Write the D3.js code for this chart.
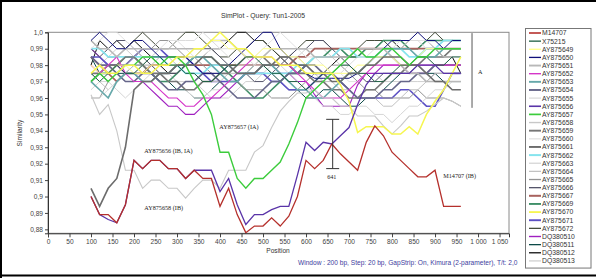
<!DOCTYPE html>
<html>
<head>
<meta charset="utf-8">
<script src="https://cdn.jsdelivr.net/npm/d3@7"></script>
<style>
  body { margin: 0; background: #fff; }
  svg { display: block; }
</style>
</head>
<body>
<svg id="chart"></svg>
<script>
// window centres (bp)
const positions = [100,120,140,160,180,200,220,240,260,280,300,
  320,340,360,380,400,420,440,460,480,500,520,
  540,560,580,600,620,640,660,680,700,720,740,
  760,780,800,820,840,860,880,900,920,940,960];

const M14707 = [.900,.889,.889,.884,.895,.922,.917,.922,.922,.917,.917,
  .911,.916,.911,.911,.894,.905,.889,.878,.882,.882,.887,
  .882,.888,.900,.922,.917,.922,.932,.926,.921,.916,.933,
  .943,.937,.927,.922,.917,.912,.912,.916,.894,.894,.894];
const X75215 = [.975,.97,.975,.98,.975,.975,.98,.985,.985,.98,.98,
  .975,.975,.97,.97,.975,.98,.98,.985,.985,.98,.975,
  .975,.97,.97,.965,.97,.975,.975,.98,.98,.975,.975,
  .97,.97,.975,.98,.98,.985,.985,.98,.98,.985,.985];
const AY875649 = [.98,.975,.975,.98,.98,.975,.975,.98,.98,.98,.98,
  .985,.985,.99,.995,.995,.99,.99,.985,.985,.99,.99,
  .99,.985,.985,.98,.98,.98,.975,.975,.975,.98,.98,
  .985,.985,.985,.98,.98,.985,.99,.99,.99,.99,.99];
const AY875650 = [.995,1.0,.995,.99,.99,.995,.995,.99,.985,.985,.985,
  .985,.98,.975,.975,.975,.98,.985,.99,.995,1.0,1.0,
  .99,.985,.98,.975,.972,.972,.972,.972,.972,.975,.98,
  .985,.99,.995,.995,.995,1.0,.995,.995,.99,.995,.995];
const AY875651 = [.995,.99,.99,.985,.99,.99,.99,.99,.99,.99,.99,
  .99,.99,.99,.995,.995,.995,.99,.985,.985,.985,.99,
  .99,.99,.99,.99,.985,.985,.985,.985,.985,.99,.99,
  .99,.99,.985,.98,.975,.975,.97,.97,.97,.97,.97];
const AY875652 = [.98,.975,.98,.985,.975,.97,.97,.97,.965,.96,.96,
  .955,.955,.96,.96,.965,.97,.975,.98,.985,.985,.985,
  .98,.98,.975,.97,.965,.96,.96,.96,.965,.97,.975,
  .98,.98,.98,.98,.98,.98,.98,.98,.98,.98,.98];
const AY875653 = [.97,.965,.96,.97,.975,.975,.97,.97,.975,.975,.98,
  .98,.985,.985,.98,.975,.97,.97,.975,.975,.98,.98,
  .975,.97,.965,.965,.96,.96,.965,.97,.975,.975,.98,
  .985,.985,.99,.99,.99,.985,.985,.985,.99,.99,.99];
const AY875654 = [.985,.98,.98,.975,.97,.97,.975,.975,.97,.965,.965,
  .97,.97,.975,.975,.97,.965,.96,.96,.96,.965,.97,
  .97,.975,.975,.98,.98,.975,.975,.97,.965,.96,.96,
  .96,.965,.965,.97,.97,.975,.975,.98,.98,.98,.98];
const AY875655 = [.96,.96,.965,.97,.975,.975,.98,.985,.99,.99,.995,
  .995,.995,1.0,.995,.99,.99,.99,.985,.98,.98,.98,
  .975,.97,.97,.965,.965,.97,.975,.975,.98,.985,.985,
  .99,.99,.99,.995,.995,.995,.99,.99,.985,.985,.985];
const AY875656 = [.900,.889,.886,.884,.895,.922,.917,.922,.922,.917,.917,
  .911,.916,.916,.916,.903,.911,.895,.883,.889,.889,.892,
  .894,.894,.913,.933,.928,.933,.932,.937,.942,.956,.968,
  .975,.975,.975,.975,.975,.98,.98,.98,.975,.975,.975];
const AY875657 = [.97,.975,.97,.975,.98,.98,.985,.985,.98,.985,.985,
  .98,.97,.962,.95,.927,.927,.911,.905,.911,.911,.916,
  .921,.932,.945,.96,.965,.97,.975,.98,.985,.99,.985,
  .985,.99,.99,.985,.98,.985,.985,.99,.99,.99,.99];
const AY875658 = [.962,.95,.956,.94,.916,.916,.905,.91,.91,.905,.905,
  .899,.905,.91,.91,.905,.916,.916,.916,.927,.931,.942,
  .952,.958,.963,.963,.965,.96,.96,.955,.955,.949,.949,
  .949,.943,.938,.943,.949,.949,.952,.956,.96,.958,.955];
const AY875659 = [.975,.975,.98,.98,.985,.985,.98,.975,.975,.97,.97,
  .965,.965,.97,.97,.975,.975,.98,.985,.985,.985,.98,
  .98,.98,.975,.975,.97,.97,.965,.965,.96,.96,.965,
  .965,.97,.975,.975,.98,.98,.985,.985,.985,.99,.99];
const AY875660 = [.99,.995,1.0,1.0,.995,.99,.985,.985,.99,.995,.995,
  .99,.985,.985,.99,.99,.985,.98,.98,.985,.99,.995,
  1.0,.995,.99,.985,.985,.98,.975,.975,.97,.97,.975,
  .98,.985,.99,.99,.995,.995,.995,.99,.99,.99,.99];
const AY875661 = [.905,.894,.905,.911,.93,.965,.97,.97,.975,.975,.98,
  .98,.98,.985,.985,.98,.98,.975,.975,.975,.98,.98,
  .985,.985,.98,.98,.975,.975,.97,.97,.975,.975,.98,
  .98,.985,.985,.985,.98,.98,.975,.97,.97,.965,.965];
const AY875662 = [.99,.99,.985,.985,.985,.985,.985,.985,.985,.98,.98,
  .975,.975,.975,.98,.98,.98,.975,.975,.975,.975,.975,
  .975,.975,.98,.98,.985,.985,.985,.99,.99,.985,.985,
  .985,.99,.99,.99,.985,.985,.99,.99,.995,.995,.995];
const AY875663 = [.965,.97,.97,.965,.96,.965,.97,.975,.975,.97,.97,
  .965,.96,.96,.965,.965,.97,.97,.975,.98,.985,.985,
  .98,.975,.97,.965,.96,.955,.955,.95,.95,.955,.955,
  .95,.95,.945,.95,.955,.955,.96,.965,.965,.97,.97];
const AY875664 = [.975,.97,.965,.97,.975,.98,.98,.98,.985,.985,.98,
  .975,.975,.97,.97,.97,.975,.975,.98,.98,.985,.99,
  .99,.985,.985,.98,.975,.97,.97,.965,.965,.96,.96,
  .96,.955,.955,.96,.965,.965,.97,.975,.975,.975,.975];
const AY875665 = [.96,.96,.97,.975,.98,.985,.99,.99,.995,.995,.99,
  .985,.985,.98,.975,.975,.97,.97,.965,.965,.965,.96,
  .96,.96,.965,.97,.975,.975,.98,.98,.975,.97,.965,
  .965,.96,.96,.96,.96,.965,.96,.96,.96,.958,.955];
const AY875666 = [.99,.985,.99,.995,.995,.99,.985,.98,.975,.975,.975,
  .98,.985,.99,.99,.985,.98,.975,.975,.97,.97,.975,
  .98,.985,.99,.99,.995,.995,.99,.985,.98,.975,.97,
  .97,.975,.975,.975,.975,.975,.97,.975,.975,.975,.975];
const AY875667 = [.985,.98,.975,.97,.975,.975,.975,.98,.98,.98,.98,
  .98,.98,.98,.98,.98,.98,.98,.98,.98,.98,.98,
  .98,.98,.985,.985,.99,.99,.99,.99,.99,.99,.99,
  .99,.99,.99,.99,.99,.99,.99,.99,.99,.99,.99];
const AY875669 = [.97,.975,.975,.98,.985,.985,.98,.975,.97,.97,.975,
  .98,.985,.985,.985,.98,.975,.97,.965,.96,.96,.965,
  .97,.975,.975,.98,.985,.985,.99,.99,.985,.985,.99,
  .99,.995,.995,.995,.99,.99,.995,.995,.995,.995,.995];
const AY875670 = [.975,.98,.975,.975,.98,.98,.975,.975,.98,.98,.985,
  .985,.99,.99,.995,1.0,.995,.99,.99,.985,.985,.985,
  .98,.98,.98,.975,.975,.975,.975,.968,.958,.939,.9425,
  .9425,.9425,.938,.938,.9425,.938,.95,.958,.965,.975,.985];
const AY875671 = [.985,.985,.98,.98,.98,.985,.99,.99,.99,.985,.985,
  .985,.98,.975,.97,.97,.97,.97,.975,.975,.975,.97,
  .97,.965,.965,.965,.97,.975,.975,.97,.965,.96,.96,
  .96,.96,.96,.965,.965,.96,.955,.955,.965,.975,.975];
const AY875672 = [.995,.99,.985,.985,.99,.995,1.0,.995,.99,.99,.995,
  1.0,1.0,.995,.99,.985,.985,.99,.99,.995,.995,.99,
  .985,.985,.99,.995,.995,.995,.99,.99,.985,.99,.995,
  .995,.995,.99,.99,.995,.995,.995,1.0,.995,.995,.995];
const DQ380510 = [.99,.985,.98,.98,.975,.975,.97,.965,.96,.955,.955,
  .95,.95,.955,.96,.96,.965,.97,.975,.975,.98,.98,
  .975,.975,.97,.97,.962,.955,.955,.955,.955,.968,.975,
  .975,.98,.98,.98,.975,.975,.975,.98,.98,.98,.98];
const DQ380511 = [.985,.975,.97,.975,.975,.98,.98,.975,.97,.97,.965,
  .965,.96,.96,.965,.97,.97,.975,.975,.98,.98,.975,
  .97,.965,.965,.96,.96,.965,.965,.96,.955,.955,.96,
  .96,.965,.97,.975,.975,.98,.975,.975,.97,.97,.97];
const DQ380512 = [.98,.995,.99,.995,.99,.995,.99,.985,.98,.975,.975,
  .98,.98,.985,.99,.99,.995,1.0,1.0,.995,.995,.99,
  .985,.98,.975,.975,.97,.975,.98,.985,.985,.985,.99,
  .99,.995,.995,.99,.99,.99,.995,.99,.985,.985,.975];
const DQ380513 = [.975,.98,.985,.99,.99,.985,.98,.98,.975,.975,.97,
  .97,.97,.965,.96,.96,.96,.965,.97,.97,.975,.98,
  .98,.98,.985,.99,.99,.99,.985,.98,.98,.975,.975,
  .975,.97,.97,.97,.97,.97,.97,.97,.97,.97,.97];

const seriesNames = ["M14707","X75215","AY875649","AY875650","AY875651","AY875652",
  "AY875653","AY875654","AY875655","AY875656","AY875657","AY875658","AY875659",
  "AY875660","AY875661","AY875662","AY875663","AY875664","AY875665","AY875666",
  "AY875667","AY875669","AY875670","AY875671","AY875672","DQ380510","DQ380511",
  "DQ380512","DQ380513"];
const seriesValues = [M14707,X75215,AY875649,AY875650,AY875651,AY875652,
  AY875653,AY875654,AY875655,AY875656,AY875657,AY875658,AY875659,
  AY875660,AY875661,AY875662,AY875663,AY875664,AY875665,AY875666,
  AY875667,AY875669,AY875670,AY875671,AY875672,DQ380510,DQ380511,
  DQ380512,DQ380513];
const seriesColors = ["#b5302c","#1d5e42","#ffff88","#10107a","#b8b8b8","#d535c8",
  "#66a8aa","#66668a","#dcdcdc","#5a34a8","#3ccc3c","#c8c8c8","#767676",
  "#e2e2e2","#6c6c6c","#86e4ee","#d6d6d6","#c2c2c2","#959595","#55556a",
  "#a8625e","#3f8f68","#f6f650","#5c50c4","#454d3c","#a020c0","#0c4a48",
  "#111111","#d0d0d0"];
const seriesWidths = [1.3,1,1,1,1.6,1.1,1.6,1.6,1,1.3,1.4,1.1,1.6,
  1,1.6,1.7,1,1,1,1,1.7,1.6,1.5,1.6,1,1.1,1,1,1];

const yTicks = [1.0,.99,.98,.97,.96,.95,.94,.93,.92,.91,.90,.89,.88];
const yTickLabels = ["1,0","0,99","0,98","0,97","0,96","0,95","0,94","0,93","0,92","0,91","0,9","0,89","0,88"];
const xTicks = [0,50,100,150,200,250,300,350,400,450,500,550,600,650,700,750,800,850,900,950,1000,1050];
const xTickLabels = ["0","50","100","150","200","250","300","350","400","450","500","550","600","650","700","750","800","850","900","950","1 000","1 050"];

// annotations (position, similarity)
const labels = [
  {text: "AY875657 (IA)", pos: 444, val: .941, anchor: "middle"},
  {text: "AY875656 (IB, IA)", pos: 280, val: .9265, anchor: "middle"},
  {text: "AY875658 (IB)", pos: 269, val: .892, anchor: "middle"},
  {text: "M14707 (IB)", pos: 919, val: .911, anchor: "start"},
  {text: "641", pos: 660, val: .9105, anchor: "middle"}
];
const breakPos = 662, breakRange = [.917, .947];
const groupPos = 986, groupRange = [.954, .9995];

const W = 596, H = 278;
const svg = d3.select("#chart").attr("width", W).attr("height", H)
  .style("font-family", "'Liberation Sans', Arial, sans-serif");

svg.append("rect").attr("width", W).attr("height", H).attr("fill", "#fff");
// outer frame
svg.append("path").attr("d", `M1,${H}V1H${W}M0,${H - 2.5}H${W}`)
  .attr("stroke", "#000").attr("stroke-width", 2).attr("fill", "none");

const x = d3.scaleLinear().domain([0, 1072]).range([48, 509]);
const y = d3.scaleLinear().domain([0.8776, 1.0]).range([233.3, 32.3]);

// plot box
svg.append("rect").attr("x", 48).attr("y", 32.3).attr("width", 461).attr("height", 201)
  .attr("fill", "none").attr("stroke", "#8a8a8a").attr("stroke-width", 1);

const line = d3.line().x((d, i) => x(positions[i])).y(d => y(d));
const plot = svg.append("g");
const order = d3.range(seriesNames.length).reverse();
// draw the highlighted ones last
const front = [11, 14, 10, 22, 9, 0];
order.filter(i => !front.includes(i)).concat(front).forEach(i => {
  plot.append("path").datum(seriesValues[i]).attr("d", line)
    .attr("fill", "none").attr("stroke", seriesColors[i])
    .attr("stroke-width", seriesWidths[i]).attr("stroke-linejoin", "miter");
});

// x axis
const xAxis = svg.append("g").attr("transform", "translate(0,233.3)");
xAxis.call(d3.axisBottom(x).tickValues(d3.range(0, 1071, 10)).tickSize(2).tickFormat(""));
xAxis.call(d3.axisBottom(x).tickValues(xTicks).tickSize(4).tickPadding(2)
  .tickFormat((d, i) => xTickLabels[i]));
xAxis.selectAll(".domain").attr("stroke", "#333");
xAxis.selectAll("line").attr("stroke", "#444");
xAxis.selectAll("text").attr("font-size", 6.6).attr("fill", "#444")
  .attr("font-family", "'Liberation Sans', Arial, sans-serif");

// y axis
const yAxis = svg.append("g").attr("transform", "translate(48,0)");
yAxis.call(d3.axisLeft(y).tickValues(yTicks).tickSize(3).tickPadding(2)
  .tickFormat((d, i) => yTickLabels[i]));
yAxis.selectAll(".domain").attr("stroke", "#333");
yAxis.selectAll("line").attr("stroke", "#444");
yAxis.selectAll("text").attr("font-size", 6.6).attr("fill", "#444")
  .attr("font-family", "'Liberation Sans', Arial, sans-serif");

// titles
svg.append("text").attr("x", 263).attr("y", 18).attr("text-anchor", "middle")
  .attr("font-size", 6.8).attr("fill", "#333").text("SimPlot - Query: Tun1-2005");
svg.append("text").attr("x", 278).attr("y", 253).attr("text-anchor", "middle")
  .attr("font-size", 6.6).attr("fill", "#333").text("Position");
svg.append("text").attr("transform", "translate(22,133) rotate(-90)").attr("text-anchor", "middle")
  .attr("font-size", 6.6).attr("fill", "#333").text("Similarity");
svg.append("text").attr("x", 298).attr("y", 264.5)
  .attr("font-size", 6.6).attr("fill", "#3d3d9e")
  .text("Window : 200 bp, Step: 20 bp, GapStrip: On, Kimura (2-parameter), T/t: 2,0");

// annotations
svg.append("g").selectAll("text").data(labels).join("text")
  .attr("x", d => x(d.pos)).attr("y", d => y(d.val))
  .attr("text-anchor", d => d.anchor)
  .attr("font-family", "'Liberation Serif', 'Times New Roman', serif")
  .attr("font-size", 6.2).attr("fill", "#222").text(d => d.text);

const bx = x(breakPos);
svg.append("path")
  .attr("d", `M${bx - 6.5},${y(breakRange[1])}H${bx + 6.5}M${bx},${y(breakRange[1])}V${y(breakRange[0])}M${bx - 6.5},${y(breakRange[0])}H${bx + 6.5}`)
  .attr("stroke", "#333").attr("stroke-width", 1).attr("fill", "none");

const gx = x(groupPos);
svg.append("line").attr("x1", gx).attr("x2", gx)
  .attr("y1", y(groupRange[1])).attr("y2", y(groupRange[0]))
  .attr("stroke", "#555").attr("stroke-width", 1);
svg.append("text").attr("x", gx + 6).attr("y", y(.976) + 2)
  .attr("font-family", "'Liberation Serif', serif").attr("font-size", 6.2)
  .attr("fill", "#222").text("A");

// legend
const legend = svg.append("g");
const rowH = 8.14, legendTop = 33;
legend.append("rect").attr("x", 525.5).attr("y", 28.5).attr("width", 65.5)
  .attr("height", rowH * seriesNames.length + 3.5)
  .attr("fill", "#fff").attr("stroke", "#777").attr("stroke-width", 1);
const rows = legend.selectAll("g").data(seriesNames).join("g")
  .attr("transform", (d, i) => `translate(0,${legendTop + i * rowH})`);
rows.append("line").attr("x1", 529).attr("x2", 541)
  .attr("stroke", (d, i) => seriesColors[i])
  .attr("stroke-width", (d, i) => seriesWidths[i] + 0.3);
rows.append("text").attr("x", 542).attr("y", 2.4)
  .attr("font-size", 6.8).attr("fill", "#333").text(d => d);
</script>
</body>
</html>
